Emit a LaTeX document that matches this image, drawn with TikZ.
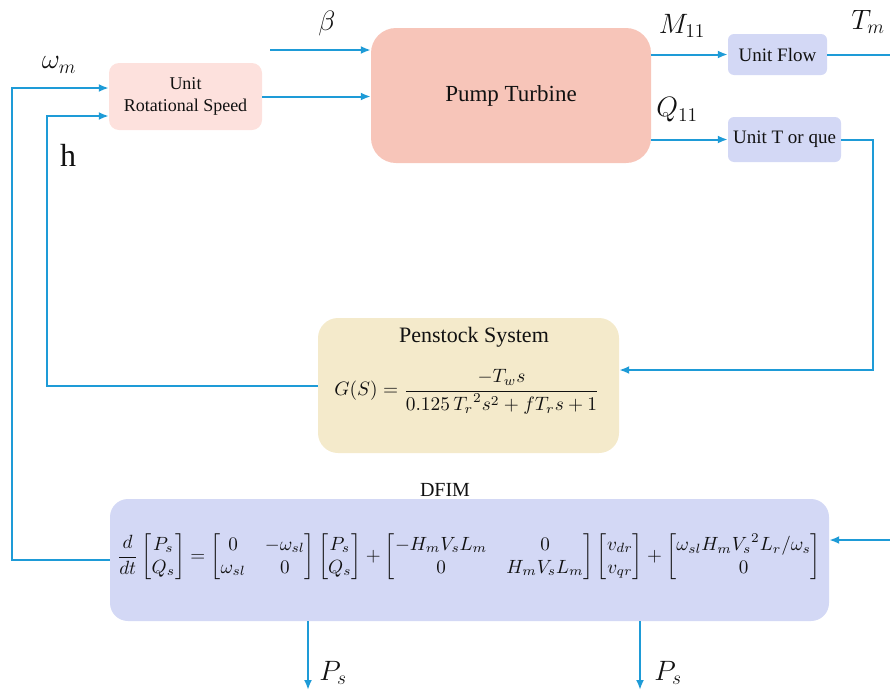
\documentclass[tikz,border=0pt]{standalone}
\usepackage{amsmath}
\usepackage{graphicx}
\usepackage{fontspec}
\setmainfont{Liberation Serif}
\usetikzlibrary{arrows.meta}
\definecolor{lnblue}{HTML}{1E9BD7}
\definecolor{urspink}{HTML}{FDE1DD}
\definecolor{ptpink}{HTML}{F7C5B9}
\definecolor{lav}{HTML}{D3D8F5}
\definecolor{penyel}{HTML}{F4EACB}
\definecolor{txt}{HTML}{111111}
\newcommand{\mlbl}[1]{\scalebox{1.35}{\fontsize{20}{24}\selectfont$#1$}}
\begin{document}
\begin{tikzpicture}[x=1pt,y=-1pt,
  blk/.style={inner sep=0pt, align=center, text=txt},
  conn/.style={draw=lnblue, line width=2pt},
  arr/.style={conn, -{Latex[length=10pt,width=8pt]}},
  lbl/.style={text=txt, inner sep=0pt}]
\useasboundingbox (0,0) rectangle (890,691);
% blocks
\node[blk, fill=urspink, rounded corners=10pt, minimum width=153pt, minimum height=67pt,
  font=\fontsize{18}{22}\selectfont] (urs) at (185.5,96.5) {Unit\\Rotational Speed};
\node[blk, fill=ptpink, rounded corners=25pt, minimum width=280pt, minimum height=135pt,
  font=\fontsize{23}{27}\selectfont] (pt) at (511,95.5) {Pump Turbine};
\node[blk, fill=lav, rounded corners=6pt, minimum width=99pt, minimum height=41pt,
  font=\fontsize{19}{22}\selectfont] (uf) at (777.5,54.5) {Unit Flow};
\node[blk, fill=lav, rounded corners=6pt, minimum width=113pt, minimum height=45pt,
  font=\fontsize{19}{22}\selectfont] (ut) at (784.5,139.5) {Unit T or que};
\node[blk, fill=penyel, rounded corners=20pt, minimum width=301pt, minimum height=135pt] (pen) at (468.5,385.5) {};
\node[lbl, font=\fontsize{22}{26}\selectfont] (pentitle) at (474,337) {Penstock System};
\node[lbl] (peneq) at (467,392)
  {\resizebox{265pt}{!}{$G(S)=\dfrac{-T_w s}{0.125\,{T_r}^2 s^2+f T_r s+1}$}};
\node[blk, fill=lav, rounded corners=18pt, minimum width=719pt, minimum height=122pt] (dfim) at (469.5,560) {};
\node[lbl, font=\fontsize{20}{24}\selectfont] (dfimtitle) at (445,490) {DFIM};
\node[lbl] (dfimeq) at (469,557) {\resizebox{704pt}{!}{$\dfrac{d}{dt}\begin{bmatrix}P_s\\ Q_s\end{bmatrix}=\begin{bmatrix}0 & -\omega_{sl}\\ \omega_{sl} & 0\end{bmatrix}\begin{bmatrix}P_s\\ Q_s\end{bmatrix}+\begin{bmatrix}-H_mV_sL_m & 0\\ 0 & H_mV_sL_m\end{bmatrix}\begin{bmatrix}v_{dr}\\ v_{qr}\end{bmatrix}+\begin{bmatrix}\omega_{sl}H_m{V_s}^2L_r/\omega_s\\ 0\end{bmatrix}$}};
% labels
\node[lbl] (lw) at (59,65) {\mlbl{\omega_m}};
\node[lbl, font=\fontsize{32}{36}\selectfont] (lh) at (68,155) {h};
\node[lbl] (lb) at (327,23) {\mlbl{\beta}};
\node[lbl] (lm) at (682,26) {\mlbl{M_{11}}};
\node[lbl] (lt) at (868,22) {\mlbl{T_m}};
\node[lbl] (lq) at (677,110) {\mlbl{Q_{11}}};
\node[lbl] (lp1) at (333,673) {\mlbl{P_s}};
\node[lbl] (lp2) at (668,673) {\mlbl{P_s}};
% coordinates
\coordinate (c1) at (12,88);
\coordinate (c2) at (47,116);
\coordinate (b0) at (270,50);
\coordinate (tm) at (890,54.5);
\coordinate (c4) at (873,370);
\coordinate (c5) at (890,540);
\coordinate (p1) at (308,690);
\coordinate (p2) at (640,690);
% connectors
\draw[arr] (dfim.west) -| (c1) -- (c1 -| urs.west);
\draw[arr] (pen.west) -| (c2) -- (c2 -| urs.west);
\draw[arr] (b0) -- (b0 -| pt.west);
\draw[arr] (urs.east) -- (urs.east -| pt.west);
\draw[arr] (pt.east |- uf) -- (uf.west);
\draw[conn] (uf.east) -- (tm);
\draw[arr] (pt.east |- ut) -- (ut.west);
\draw[arr] (ut.east) -| (c4) -- (c4 -| pen.east);
\draw[arr] (c5) -- (c5 -| dfim.east);
\draw[arr] (dfim.south -| p1) -- (p1);
\draw[arr] (dfim.south -| p2) -- (p2);
\end{tikzpicture}
\end{document}
